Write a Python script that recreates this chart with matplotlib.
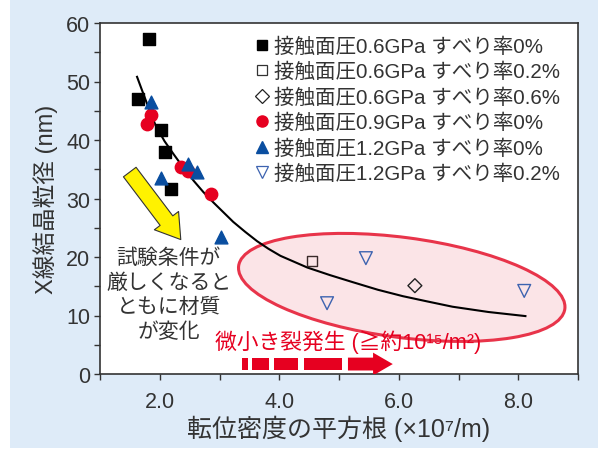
import numpy as np
import matplotlib.pyplot as plt
from matplotlib.patches import Ellipse, Rectangle, FancyArrow
from matplotlib.lines import Line2D
import matplotlib.transforms as mtransforms

plt.rcParams['font.family'] = ['Liberation Sans', 'Noto Sans CJK JP', 'DejaVu Sans']

# data
sq_x = [1.82, 1.63, 2.02, 2.08, 2.18]
sq_y = [57.3, 47.0, 41.7, 37.9, 31.6]
circ_x = [1.85, 1.78, 2.35, 2.47, 2.85]
circ_y = [44.3, 42.7, 35.4, 34.7, 30.7]
tri_x = [1.85, 2.02, 2.47, 2.62, 3.03]
tri_y = [46.5, 33.5, 35.9, 34.6, 23.4]
osq_x = [4.55]
osq_y = [19.3]
dia_x = [6.27]
dia_y = [15.1]
otri_x = [5.45, 4.80, 8.10]
otri_y = [19.8, 12.1, 14.2]
curve_x = [1.62, 1.78, 1.93, 2.08, 2.23, 2.40, 2.57, 2.73, 2.90, 3.07, 3.23, 3.43,
           3.63, 3.82, 4.02, 4.47, 4.85, 5.23, 5.65, 6.07, 6.48, 6.90, 7.50, 8.12]
curve_y = [50.8, 46.4, 42.5, 39.8, 37.6, 35.2, 33.0, 31.1, 29.3, 27.6, 26.0, 24.3,
           22.7, 21.4, 20.2, 18.2, 16.9, 15.7, 14.4, 13.3, 12.4, 11.5, 10.6, 9.9]

labels = ['接触面圧0.6GPa すべり率0%', '接触面圧0.6GPa すべり率0.2%',
          '接触面圧0.6GPa すべり率0.6%', '接触面圧0.9GPa すべり率0%',
          '接触面圧1.2GPa すべり率0%', '接触面圧1.2GPa すべり率0.2%']

bg = '#deebf8'
red = '#e60020'
blue = '#0a4ea0'
txt = '#333333'

fig = plt.figure(figsize=(5.98, 4.52), dpi=100)
fig.patch.set_facecolor('white')
fig.patches.append(Rectangle((10 / 598, 3 / 452), 1, 1, transform=fig.transFigure,
                             facecolor=bg, edgecolor='none', zorder=-10))
ax = fig.add_axes([100 / 598, 1 - 375 / 452, 478 / 598, 351 / 452])
ax.set_facecolor('white')

ax.set_xlim(1, 9)
ax.set_ylim(0, 60)

# ellipse drawn in pixel units so it keeps its shape
trans = fig.dpi_scale_trans + mtransforms.ScaledTranslation(6.05, 14.8, ax.transData)
ell = Ellipse((0, 0), 3.29, 1.0, angle=-7.5, transform=trans,
              facecolor='#fbe4e7', edgecolor='#e8344a', lw=2.2, zorder=1)
ax.add_patch(ell)

ax.plot(curve_x, curve_y, color='black', lw=1.5, zorder=2)

ax.scatter(sq_x, sq_y, marker='s', s=70, color='black', zorder=3)
ax.scatter(osq_x, osq_y, marker='s', s=55, facecolor='none', edgecolor='#3a2a2a', lw=1.0, zorder=3)
ax.scatter(dia_x, dia_y, marker='D', s=50, facecolor='none', edgecolor='#222222', lw=1.0, zorder=3)
ax.scatter(circ_x, circ_y, marker='o', s=80, color=red, zorder=3)
ax.scatter(tri_x, tri_y, marker='^', s=85, color=blue, zorder=4)
ax.scatter(otri_x, otri_y, marker='v', s=85, facecolor='none', edgecolor='#3d63b0', lw=1.0, zorder=3)

handles = [
    Line2D([], [], ls='none', marker='s', ms=7, color='black'),
    Line2D([], [], ls='none', marker='s', ms=7, mfc='none', mec='#333333', mew=0.9),
    Line2D([], [], ls='none', marker='D', ms=7, mfc='none', mec='#222222', mew=0.9),
    Line2D([], [], ls='none', marker='o', ms=8, color=red),
    Line2D([], [], ls='none', marker='^', ms=8, color=blue),
    Line2D([], [], ls='none', marker='v', ms=8, mfc='none', mec='#3d63b0', mew=0.9),
]
ax.legend(handles, labels, loc='upper left', bbox_to_anchor=(0.298, 0.997), frameon=False,
          fontsize=14.8, handlelength=0.7, handletextpad=0.25, labelspacing=0.3,
          borderaxespad=0.2, labelcolor=txt)

# yellow arrow
ax.annotate('', xy=(2.38, 22.6), xytext=(1.47, 34.9),
            arrowprops=dict(arrowstyle='simple,head_length=0.9,head_width=1.15,tail_width=0.6',
                            fc='#fff200', ec=txt, lw=0.8, mutation_scale=19))

ax.text(2.15, 13.6, '試験条件が\n厳しくなると\nともに材質\nが変化', ha='center', va='center',
        fontsize=15, color=txt, linespacing=1.35)

ax.text(2.92, 5.6, '微小き裂発生 (≧約10¹⁵/m²)', ha='left', va='center',
        fontsize=15.7, color=red)

# dashed red arrow
for x0, x1 in [(3.38, 3.47), (3.55, 3.83), (3.92, 4.32), (4.42, 5.05)]:
    ax.add_patch(Rectangle((x0, 0.6), x1 - x0, 2.2, facecolor=red, edgecolor='none', zorder=3))
ax.add_patch(FancyArrow(5.15, 1.7, 0.75, 0, width=2.2, head_width=3.9, head_length=0.33,
                        length_includes_head=True, facecolor=red, edgecolor='none', zorder=3))

ax.set_xticks([1, 2, 3, 4, 5, 6, 7, 8, 9])
ax.set_xticklabels(['', '2.0', '', '4.0', '', '6.0', '', '8.0', ''])
ax.set_yticks(range(0, 61, 10))
ax.set_yticks(range(5, 60, 10), minor=True)
ax.tick_params(axis='both', which='both', direction='out', length=4, width=1, color=txt,
               labelsize=15.5, labelcolor=txt)
ax.tick_params(axis='x', pad=8)
ax.tick_params(axis='y', pad=3)
for s in ax.spines.values():
    s.set_linewidth(1.2)
    s.set_color(txt)

ax.set_xlabel('転位密度の平方根 (×10⁷/m)', fontsize=18, color=txt, labelpad=2)
ax.set_ylabel('X線結晶粒径 (nm)', fontsize=17, color=txt, labelpad=6)

fig.savefig('out.png', dpi=100, facecolor=fig.get_facecolor())
